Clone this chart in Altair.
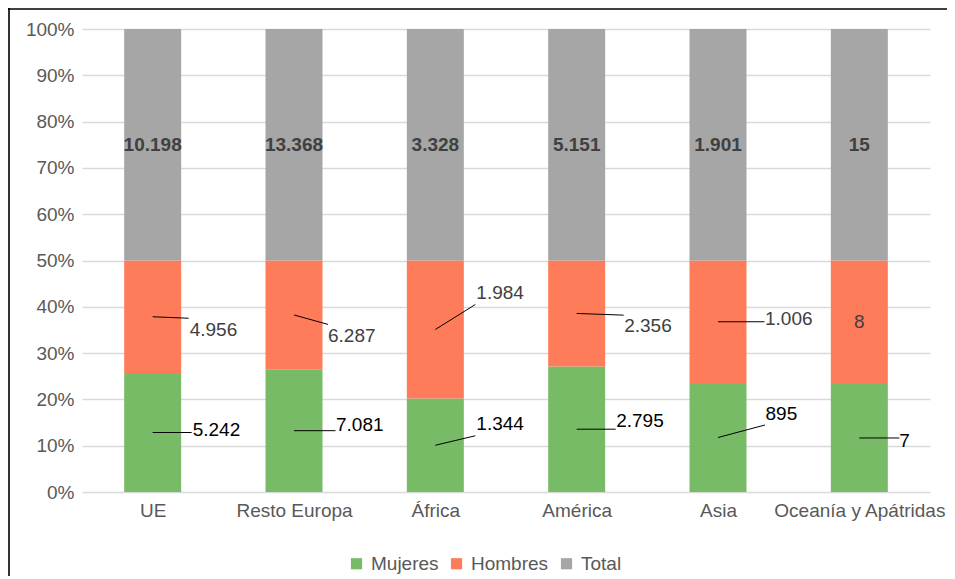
import altair as alt
import pandas as pd

categories = ["UE", "Resto Europa", "África", "América", "Asia", "Oceanía y Apátridas"]
mujeres = [5242, 7081, 1344, 2795, 895, 7]
hombres = [4956, 6287, 1984, 2356, 1006, 8]
total = [10198, 13368, 3328, 5151, 1901, 15]
series = ["Mujeres", "Hombres", "Total"]
colors = ["#78BB67", "#FF7C5B", "#A6A6A6"]


def fmt(v):
    return f"{v:,}".replace(",", ".")


bar_rows = []
label_rows = []
for i, c in enumerate(categories):
    vals = [mujeres[i], hombres[i], total[i]]
    whole = sum(vals)
    cum = 0
    for k, (s, v) in enumerate(zip(series, vals)):
        bar_rows.append(dict(cat=c, idx=i, serie=s, ord=k, value=v))
        label_rows.append(dict(cat=c, idx=i, serie=s, mid=(cum + v / 2) / whole, txt=fmt(v)))
        cum += v
bars_df = pd.DataFrame(bar_rows)
labels_df = pd.DataFrame(label_rows)

# label placement (pixels, relative to bar centre / segment middle):
# (leader end dx, leader end dy, text dx, text dy); None leader = centred label
placement = {
    ("UE", "Hombres"): (36, 1.5, 37, 13),
    ("UE", "Mujeres"): (39, 0, 40, -2.5),
    ("Resto Europa", "Hombres"): (34, 9.5, 34, 21),
    ("Resto Europa", "Mujeres"): (41.5, 0, 42, -6),
    ("África", "Hombres"): (40, -25, 41, -37),
    ("África", "Mujeres"): (40, -9.5, 41, -21),
    ("América", "Hombres"): (47, 1.7, 47.5, 13),
    ("América", "Mujeres"): (39, 0, 39.5, -8),
    ("Asia", "Hombres"): (46.5, 0, 47, -3),
    ("Asia", "Mujeres"): (47, -12.5, 47.5, -24),
    ("Oceanía y Apátridas", "Hombres"): None,
    ("Oceanía y Apátridas", "Mujeres"): (40, 0, 40, 3),
}

FONT = "Liberation Sans"
W, H = 848, 463
x_scale = alt.Scale(domain=[-0.5, len(categories) - 0.5], nice=False, zero=False, padding=0)
y_scale = alt.Scale(domain=[0, 1], nice=False)
label_expr = "[" + ",".join("'" + c + "'" for c in categories) + "][datum.value]"

x_axis = alt.Axis(values=list(range(len(categories))), labelExpr=label_expr,
                  title=None, grid=False, ticks=False, domain=False,
                  labelFontSize=19, labelColor="#595959", labelPadding=9,
                  labelFlush=False, labelOverlap=False, labelBound=False,
                  labelFont=FONT)
y_axis = alt.Axis(values=[i / 10 for i in range(11)], format=".0%", title=None,
                  grid=True, gridColor="#D9D9D9", gridWidth=1.3, ticks=False,
                  domain=False, labelFontSize=19, labelColor="#595959",
                  labelPadding=8, labelFlush=False, labelFont=FONT)


def X(field="idx:Q"):
    return alt.X(field, scale=x_scale, axis=x_axis)


def Y(field):
    return alt.Y(field, scale=y_scale, axis=y_axis)


bars = alt.Chart(bars_df).mark_bar(size=57).encode(
    x=X(),
    y=alt.Y("value:Q", stack="normalize", scale=y_scale, axis=y_axis),
    color=alt.Color("serie:N", scale=alt.Scale(domain=series, range=colors),
                    legend=alt.Legend(title=None, orient="none", legendX=265, legendY=525,
                                      direction="horizontal", symbolType="square",
                                      symbolSize=125, symbolStrokeWidth=0,
                                      labelFontSize=19, labelColor="#595959",
                                      labelFont=FONT, labelOffset=5, columnPadding=8,
                                      padding=0)),
    order=alt.Order("ord:Q"),
)

layers = [bars]

# Total labels (bold, centred)
totals = alt.Chart(labels_df).transform_filter(alt.datum.serie == "Total").mark_text(
    font=FONT, fontSize=19, fontWeight="bold", color="#404040", align="center",
    baseline="middle"
).encode(x=X(), y=Y("mid:Q"), text="txt:N")
layers.append(totals)

for (cat, serie), p in placement.items():
    base = alt.Chart(labels_df).transform_filter(
        (alt.datum.cat == cat) & (alt.datum.serie == serie)
    )
    txt_color = "#404040" if serie == "Hombres" else "#000000"
    if p is None:
        layers.append(base.mark_text(font=FONT, fontSize=19, color=txt_color,
                                     align="center", baseline="middle").encode(
            x=X(), y=Y("mid:Q"), text="txt:N"))
        continue
    ldx, ldy, tdx, tdy = p
    layers.append(base.mark_rule(color="#000000", strokeWidth=1, x2Offset=ldx,
                                 y2Offset=ldy).encode(
        x=X(), x2="idx:Q", y=Y("mid:Q"), y2="mid:Q"))
    layers.append(base.mark_text(font=FONT, fontSize=19, color=txt_color, align="left",
                                 baseline="middle", dx=tdx, dy=tdy).encode(
        x=X(), y=Y("mid:Q"), text="txt:N"))

# chart frame (left and top border lines)
frame_df = pd.DataFrame({"k": [0]})
frame_left = alt.Chart(frame_df).mark_rule(color="#000000", strokeWidth=1.6).encode(
    x=alt.value(-73), y=alt.value(-21), y2=alt.value(H + 90))
frame_top = alt.Chart(frame_df).mark_rule(color="#000000", strokeWidth=1.6).encode(
    x=alt.value(-74), x2=alt.value(W + 17), y=alt.value(-20))
layers += [frame_left, frame_top]

chart = alt.layer(*layers).properties(
    width=W, height=H,
    autosize=alt.AutoSizeParams(type="none"),
    padding={"left": 74, "top": 21, "right": 17, "bottom": 84},
).configure(font=FONT).configure_view(strokeWidth=0)

chart.save("out.html", embed_options={"renderer": "svg", "actions": False})
